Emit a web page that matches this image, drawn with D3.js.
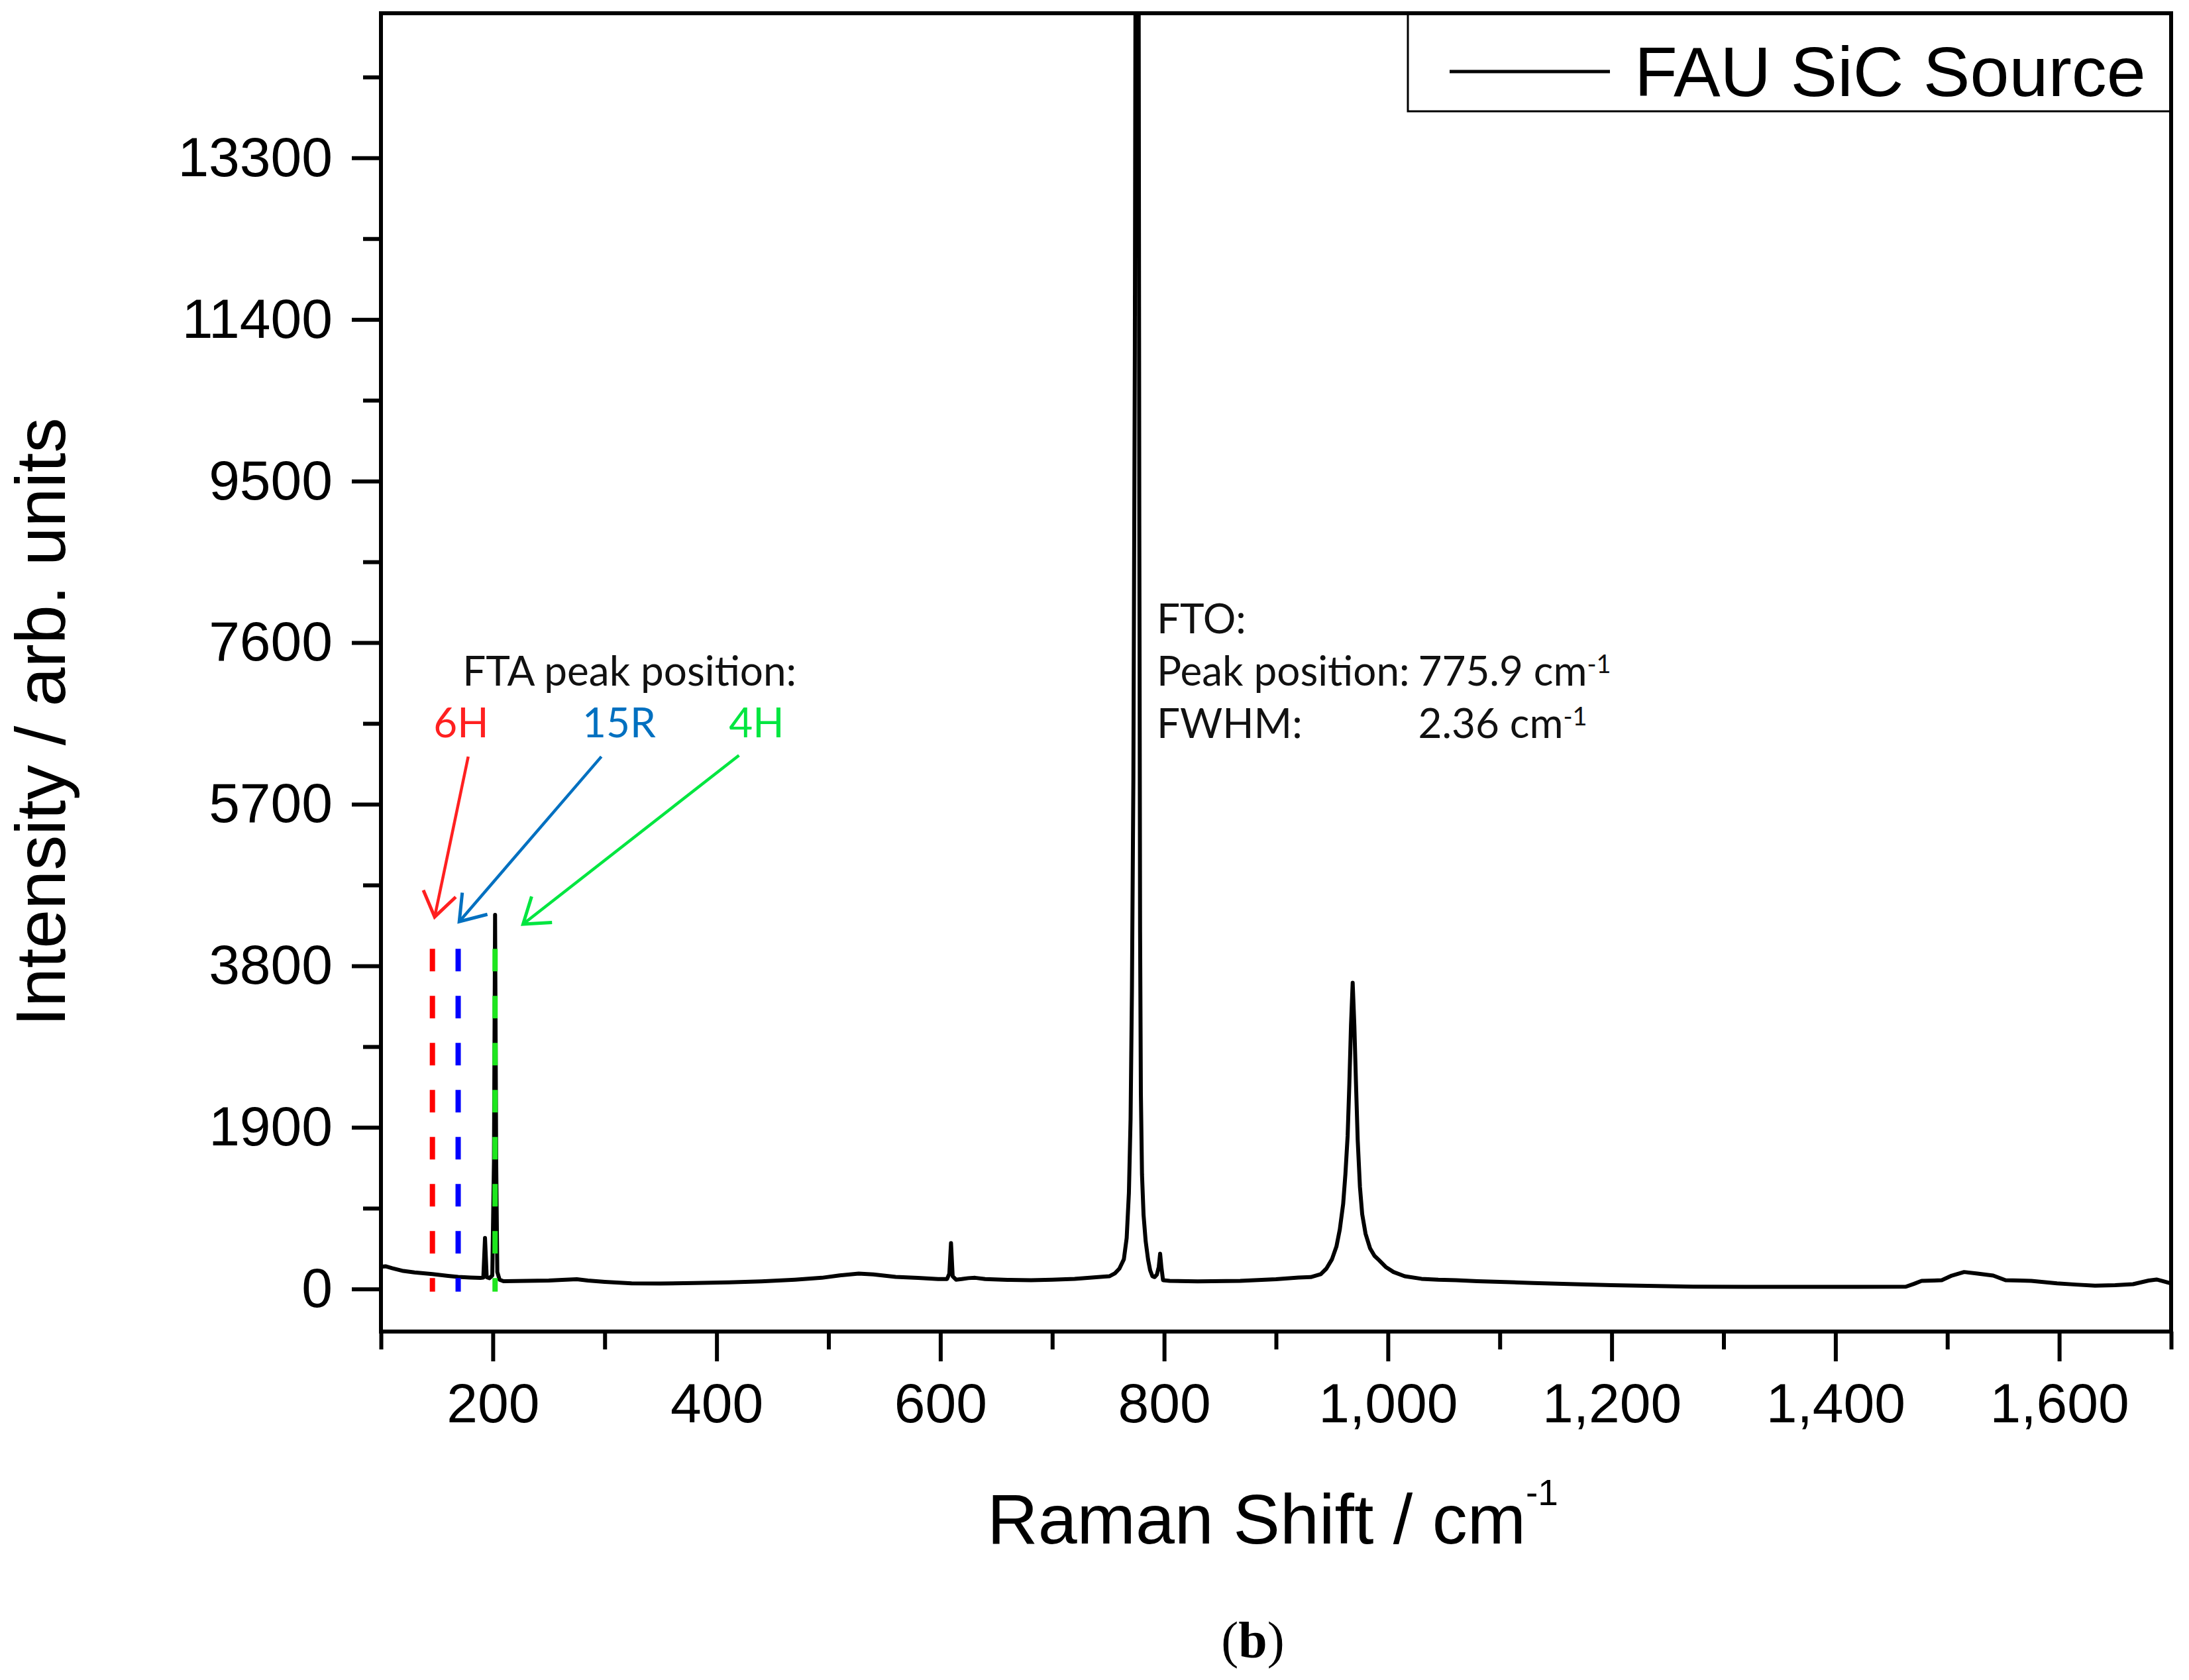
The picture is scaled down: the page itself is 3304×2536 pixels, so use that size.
<!DOCTYPE html>
<html>
<head>
<meta charset="utf-8">
<script src="https://cdn.jsdelivr.net/npm/d3@7"></script>
<style>
    body { margin: 0; background: #fff; }
</style>
</head>
<body>
<div id="chart"></div>
<script>
// spectrum: Raman shift (cm-1) and intensity (arb. units)
let ramanShift = [100, 104, 110, 120, 130, 146, 160, 169, 180, 189, 191.5, 193, 194.5, 197, 199.5, 201, 202, 203, 204, 206,
    209.5, 230, 250, 262, 275, 285, 300, 324, 350, 380, 411, 440, 470, 494, 510, 527, 540, 560, 580, 598,
    606, 608, 609.5, 611, 614, 619, 625, 631, 640, 660, 681, 700, 720, 743, 751, 756, 760, 764, 766.5, 768.5,
    770, 771.2, 772.5, 773.8, 775, 775.9, 776.8, 777.8, 778.5, 779.2, 780.2, 781.6, 783.5, 785.6, 787.5, 789.5, 791.5, 793.5, 795.2, 796.4,
    797.6, 799, 805, 830, 868, 900, 920, 931, 940, 945, 950, 954, 957, 960, 962, 964, 965.5, 967, 968.5, 970,
    971.5, 973, 975, 977, 980, 984, 988, 992, 998, 1005, 1015, 1030, 1045, 1061, 1080, 1100, 1130, 1167, 1200, 1240,
    1273, 1320, 1380, 1420, 1463, 1470, 1477, 1488, 1495, 1504, 1515, 1527, 1541, 1552, 1565, 1575, 1598, 1615, 1632, 1650,
    1666, 1680, 1687, 1692, 1700]
let intensity = [262, 268, 245, 212, 195, 175, 155, 143, 135, 130, 135, 600, 140, 128, 160, 1500, 4400, 1500, 200, 110,
    92, 95, 100, 108, 115, 100, 85, 66, 64, 70, 78, 90, 110, 132, 160, 182, 172, 143, 130, 117,
    118, 180, 540, 150, 110, 117, 128, 132, 118, 108, 104, 110, 120, 143, 150, 185, 240, 350, 600, 1130,
    2000, 3500, 6000, 11000, 20000, 30000, 20000, 9000, 4200, 2300, 1350, 870, 560, 350, 220, 150, 140, 170, 260, 415,
    250, 104, 96, 90, 96, 115, 135, 140, 175, 240, 350, 500, 700, 1000, 1350, 1800, 2400, 3100, 3600, 3100,
    2400, 1750, 1200, 880, 650, 480, 390, 340, 260, 200, 150, 120, 110, 104, 92, 85, 70, 57, 45, 35,
    28, 25, 26, 26, 28, 60, 96, 100, 104, 158, 200, 182, 158, 104, 100, 96, 66, 52, 40, 45,
    57, 100, 112, 95, 65]

// axis ticks
let yTicks = [0, 1900, 3800, 5700, 7600, 9500, 11400, 13300]
let yMinorTicks = [950, 2850, 4750, 6650, 8550, 10450, 12350, 14250]
let xTicks = [200, 400, 600, 800, 1000, 1200, 1400, 1600]
let xMinorTicks = [100, 300, 500, 700, 900, 1100, 1300, 1500, 1700]

// FTA peak markers
let polytypes = ["6H", "15R", "4H"]
let polytypeShift = [146, 169, 202]
let dashColor = ["#ff0000", "#0000ff", "#1ee61e"]
let labelColor = ["#ff2020", "#0070c0", "#00e640"]
let labelShift = [147, 280, 411]
let arrowFrom = [[178, 6260], [297, 6260], [420, 6275]]
let arrowTo = [[148, 4375], [170, 4320], [227, 4290]]

// set the dimensions and margins of the graph
let margin = {
        top: 20,
        right: 27,
        bottom: 526,
        left: 575
    },
    width = 3304 - margin.left - margin.right,
    height = 2536 - margin.top - margin.bottom;

let svg = d3.select("#chart")
    .append("svg")
    .attr("width", width + margin.left + margin.right)
    .attr("height", height + margin.top + margin.bottom)
    .style("background", "#fff")
    .append("g")
    .attr("transform", "translate(" + margin.left + "," + margin.top + ")");

let x = d3.scaleLinear()
    .domain([100, 1700])
    .range([0, width]);
let y = d3.scaleLinear()
    .domain([-500, 15000])
    .range([height, 0]);

// x axis, major + minor ticks
svg.append("g")
    .attr("transform", "translate(0," + height + ")")
    .call(d3.axisBottom(x).tickValues(xTicks).tickSize(45).tickSizeOuter(0)
        .tickPadding(32).tickFormat(d3.format(",")))
svg.append("g")
    .attr("transform", "translate(0," + height + ")")
    .call(d3.axisBottom(x).tickValues(xMinorTicks).tickSize(27).tickSizeOuter(0).tickFormat(""))

// y axis, major + minor ticks
svg.append("g")
    .call(d3.axisLeft(y).tickValues(yTicks).tickSize(44).tickSizeOuter(0)
        .tickPadding(29).tickFormat(d3.format("d")))
svg.append("g")
    .call(d3.axisLeft(y).tickValues(yMinorTicks).tickSize(27).tickSizeOuter(0).tickFormat(""))

svg.selectAll(".domain").remove()
svg.selectAll(".tick line")
    .attr("stroke", "#000")
    .attr("stroke-width", 6)
svg.selectAll(".tick text")
    .attr("fill", "#000")
    .style("font-family", "'Liberation Sans', Arial, sans-serif")
    .style("font-size", "84px")

// clip for the spectrum
svg.append("clipPath")
    .attr("id", "plotClip")
    .append("rect")
    .attr("width", width)
    .attr("height", height)

let spectrum = ramanShift.map((s, i) => {
    return { shift: s, value: intensity[i] }
})

let line = d3.line()
    .x((d) => x(d.shift))
    .y((d) => y(d.value))

svg.append("path")
    .datum(spectrum)
    .attr("clip-path", "url(#plotClip)")
    .attr("d", line)
    .attr("fill", "none")
    .attr("stroke", "#000")
    .attr("stroke-width", 6)
    .attr("stroke-linejoin", "round")

// dashed FTA marker lines
svg.selectAll("markLines")
    .data(polytypeShift)
    .enter()
    .append("line")
    .attr("x1", (d) => x(d))
    .attr("x2", (d) => x(d))
    .attr("y1", y(4000))
    .attr("y2", y(-30))
    .attr("stroke", (d, i) => dashColor[i])
    .attr("stroke-width", 8)
    .attr("stroke-dasharray", "34,37")

// arrow heads, one marker per colour
let defs = svg.append("defs")
labelColor.forEach((c, i) => {
    defs.append("marker")
        .attr("id", "arrow" + i)
        .attr("markerUnits", "userSpaceOnUse")
        .attr("viewBox", "-45 -32 52 64")
        .attr("markerWidth", 52)
        .attr("markerHeight", 64)
        .attr("refX", 0)
        .attr("refY", 0)
        .attr("orient", "auto")
        .append("path")
        .attr("d", "M-36,-25L0,0L-36,25")
        .attr("fill", "none")
        .attr("stroke", c)
        .attr("stroke-width", 5)
})

svg.selectAll("arrows")
    .data(arrowFrom)
    .enter()
    .append("line")
    .attr("x1", (d) => x(d[0]))
    .attr("y1", (d) => y(d[1]))
    .attr("x2", (d, i) => x(arrowTo[i][0]))
    .attr("y2", (d, i) => y(arrowTo[i][1]))
    .attr("stroke", (d, i) => labelColor[i])
    .attr("stroke-width", 4.5)
    .attr("marker-end", (d, i) => "url(#arrow" + i + ")")

let noteFont = "Lato, 'Open Sans', sans-serif"

svg.append("text")
    .attr("x", x(173))
    .attr("y", y(7093))
    .text("FTA peak position:")
    .style("font-family", noteFont)
    .style("font-size", "62px")
    .style("fill", "#111")

svg.selectAll("polyLabels")
    .data(polytypes)
    .enter()
    .append("text")
    .attr("x", (d, i) => x(labelShift[i]))
    .attr("y", y(6484))
    .text((d) => d)
    .style("font-family", noteFont)
    .style("font-size", "62px")
    .style("fill", (d, i) => labelColor[i])

// FTO annotation
let fto = svg.append("g")
    .style("font-family", noteFont)
    .style("font-size", "62px")
    .style("fill", "#111")
fto.append("text").attr("x", x(793.4)).attr("y", y(7709)).text("FTO:")
fto.append("text").attr("x", x(793.4)).attr("y", y(7094)).text("Peak position:")
fto.append("text").attr("x", x(793.4)).attr("y", y(6478)).text("FWHM:")

let ftoValues = ["775.9 cm", "2.36 cm"]
fto.selectAll("ftoVals")
    .data(ftoValues)
    .enter()
    .append("text")
    .attr("x", x(1027))
    .attr("y", (d, i) => y([7094, 6478][i]))
    .each(function (d) {
        let t = d3.select(this)
        t.append("tspan").text(d)
        t.append("tspan").attr("dy", -19).style("font-size", "38px").text("-1")
    })

// legend
let legend = svg.append("g")
legend.append("rect")
    .attr("x", 1550)
    .attr("y", 0)
    .attr("width", width - 1550)
    .attr("height", 148)
    .attr("fill", "#fff")
    .attr("stroke", "#000")
    .attr("stroke-width", 3)
legend.append("line")
    .attr("x1", 1613)
    .attr("x2", 1855)
    .attr("y1", 88)
    .attr("y2", 88)
    .attr("stroke", "#000")
    .attr("stroke-width", 5)
legend.append("text")
    .attr("x", 1892)
    .attr("y", 125)
    .text("FAU SiC Source")
    .style("font-family", "'Liberation Sans', Arial, sans-serif")
    .style("font-size", "106px")

// plot frame
svg.append("rect")
    .attr("width", width)
    .attr("height", height)
    .attr("fill", "none")
    .attr("stroke", "#000")
    .attr("stroke-width", 6)

// axis titles
let xTitle = svg.append("text")
    .attr("x", 1346)
    .attr("y", 2310)
    .attr("text-anchor", "middle")
    .style("font-family", "'Liberation Sans', Arial, sans-serif")
    .style("font-size", "106px")
xTitle.append("tspan").text("Raman Shift / cm")
xTitle.append("tspan").attr("dy", -58).style("font-size", "55px").text("-1")

svg.append("text")
    .attr("transform", "translate(-477,1070) rotate(-90)")
    .attr("text-anchor", "middle")
    .text("Intensity / arb. units")
    .style("font-family", "'Liberation Sans', Arial, sans-serif")
    .style("font-size", "106px")

// panel letter
let panel = svg.append("text")
    .attr("x", 1316)
    .attr("y", 2482)
    .attr("text-anchor", "middle")
    .style("font-family", "'Liberation Serif', 'DejaVu Serif', serif")
    .style("font-size", "78px")
panel.append("tspan").text("(")
panel.append("tspan").style("font-weight", "bold").text("b")
panel.append("tspan").text(")")
</script>
</body>
</html>
